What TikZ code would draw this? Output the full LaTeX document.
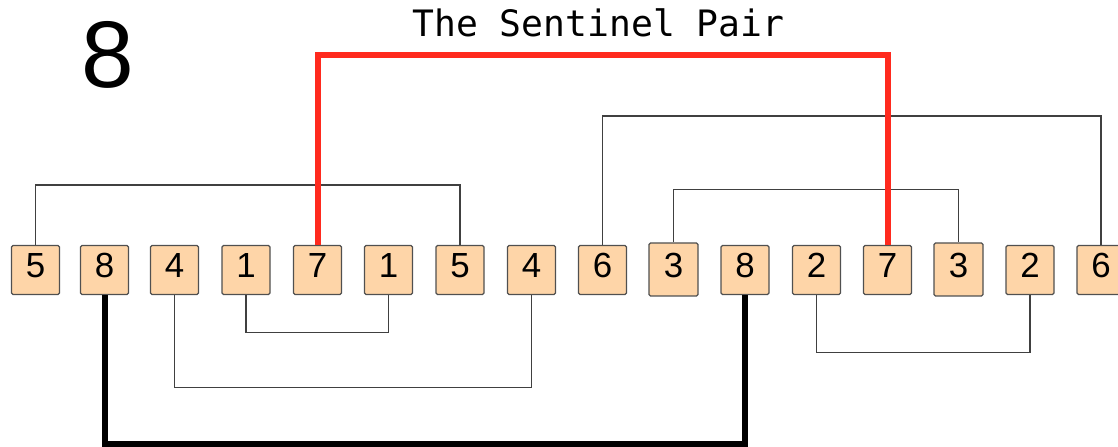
\documentclass[tikz,border=0pt]{standalone}
\usepackage{fontspec}
\setmainfont{Liberation Sans}
\newfontfamily\titlefont{DejaVu Sans Mono}
\definecolor{boxfill}{HTML}{FED5A8}
\definecolor{boxedge}{HTML}{505050}
\definecolor{pairgray}{HTML}{404040}
\definecolor{sentred}{HTML}{FF2A1E}
\tikzset{
  cell/.style={draw=boxedge, fill=boxfill, line width=1.3bp, rounded corners=1.5bp,
    minimum width=48bp, minimum height=49bp, inner sep=0pt, text depth=9bp,
    font=\fontsize{35}{40}\selectfont},
  tallcell/.style={cell, minimum width=49bp, minimum height=53bp},
  pairline/.style={draw=pairgray, line width=1.4bp},
  sentline/.style={draw=sentred, line width=6bp},
  blackline/.style={draw=black, line width=6bp}
}
\begin{document}
\begin{tikzpicture}[x=1bp,y=-1bp]
\useasboundingbox (0,0) rectangle (1118,447);
\clip (0,0) rectangle (1118,447);
% connectors first (behind boxes)
\node[cell] (b1) at (35.5,270) {5};
\node[cell] (b2) at (104.5,270) {8};
\node[cell] (b3) at (174.5,270) {4};
\node[cell] (b4) at (246,270) {1};
\node[cell] (b5) at (317.5,270) {7};
\node[cell] (b6) at (388.5,270) {1};
\node[cell] (b7) at (460,270) {5};
\node[cell] (b8) at (531.5,270) {4};
\node[cell] (b9) at (602.5,270) {6};
\node[tallcell] (b10) at (673.5,269.5) {3};
\node[cell] (b11) at (745,270) {8};
\node[cell] (b12) at (816.5,270) {2};
\node[cell] (b13) at (887.5,270) {7};
\node[tallcell] (b14) at (958.5,269.5) {3};
\node[cell] (b15) at (1030,270) {2};
\node[cell] (b16) at (1101,270) {6};

\draw[pairline] (b1.north) -- ++(0,-60) -| (b7.north);
\draw[pairline] (b9.north) -- ++(0,-129) -| (b16.north);
\draw[pairline] (b10.north) -- ++(0,-53) -| (b14.north);
\draw[pairline] (b4.south) -- ++(0,37.5) -| (b6.south);
\draw[pairline] (b3.south) -- ++(0,92.5) -| (b8.south);
\draw[pairline] (b12.south) -- ++(0,57.5) -| (b15.south);
\draw[sentline] (b5.north) -- ++(0,-189.5) -| (b13.north);
\draw[blackline] (b2.south) -- ++(0,148.5) -| (b11.south);

\node[anchor=base, font=\fontsize{95}{100}\selectfont, inner sep=0pt] (big) at (108,88) {8};
\node[anchor=base, font=\titlefont\fontsize{36.5}{40}\selectfont, inner sep=0pt] (title) at (598.5,37) {The Sentinel Pair};
\end{tikzpicture}
\end{document}
